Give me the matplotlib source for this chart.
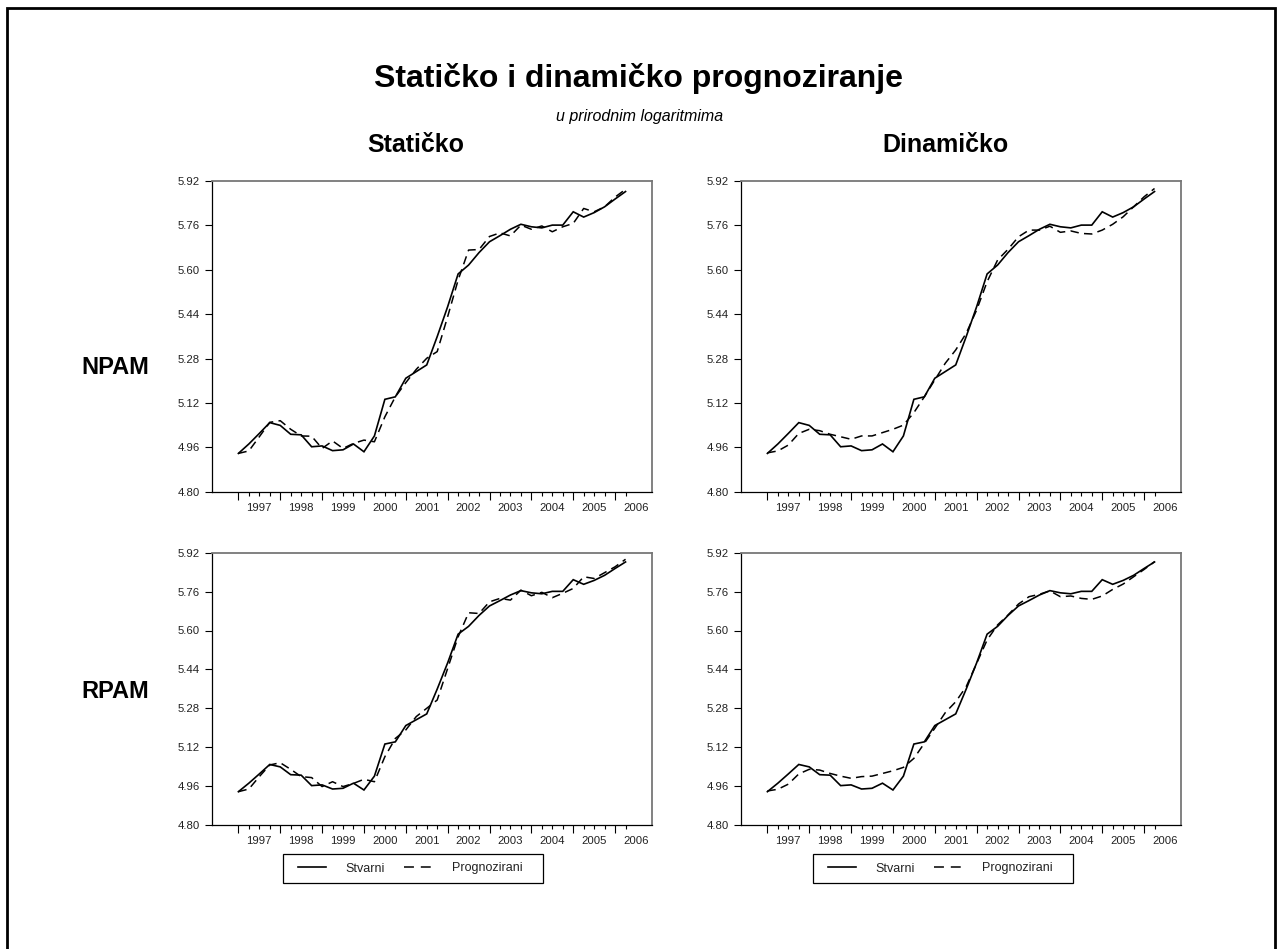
import numpy as np
import matplotlib
matplotlib.use("Agg")
import matplotlib.pyplot as plt
from matplotlib.patches import Rectangle
from matplotlib.lines import Line2D

plt.rcParams["font.family"] = ["Liberation Sans", "DejaVu Sans"]

# quarterly data, 1997Q1 .. 2006Q2 (log levels)
years = [str(y) for y in range(1997, 2007)]

npam_stvarni = [4.938, 4.972, 5.010, 5.049, 5.039, 5.007, 5.005, 4.962, 4.965, 4.948,
                4.951, 4.972, 4.944, 5.001, 5.133, 5.142, 5.209, 5.233, 5.257, 5.359,
                5.467, 5.585, 5.617, 5.662, 5.701, 5.723, 5.746, 5.764, 5.755, 5.751,
                5.761, 5.761, 5.809, 5.790, 5.806, 5.827, 5.855, 5.882]
npam_staticko = [4.938, 4.947, 4.998, 5.050, 5.056, 5.025, 5.001, 5.000, 4.956, 4.983,
                 4.956, 4.974, 4.986, 4.980, 5.070, 5.142, 5.193, 5.241, 5.281, 5.305,
                 5.431, 5.563, 5.671, 5.673, 5.720, 5.733, 5.722, 5.761, 5.746, 5.758,
                 5.737, 5.755, 5.767, 5.821, 5.809, 5.827, 5.862, 5.890]
npam_dinamicko = [4.940, 4.947, 4.968, 5.010, 5.025, 5.020, 5.007, 4.998, 4.989, 5.001,
                  5.001, 5.013, 5.025, 5.040, 5.085, 5.142, 5.203, 5.263, 5.311, 5.371,
                  5.455, 5.557, 5.635, 5.674, 5.719, 5.743, 5.743, 5.757, 5.735, 5.740,
                  5.731, 5.729, 5.743, 5.764, 5.791, 5.827, 5.863, 5.893]

rpam_stvarni = [4.937, 4.972, 5.010, 5.049, 5.039, 5.007, 5.005, 4.962, 4.965, 4.948,
                4.951, 4.972, 4.944, 5.001, 5.133, 5.142, 5.209, 5.233, 5.257, 5.359,
                5.467, 5.585, 5.617, 5.662, 5.701, 5.723, 5.746, 5.764, 5.755, 5.751,
                5.761, 5.761, 5.809, 5.790, 5.806, 5.827, 5.855, 5.882]
rpam_staticko = [4.937, 4.948, 4.999, 5.047, 5.056, 5.029, 4.999, 4.995, 4.958, 4.978,
                 4.958, 4.971, 4.988, 4.978, 5.081, 5.156, 5.191, 5.246, 5.280, 5.314,
                 5.444, 5.574, 5.673, 5.670, 5.718, 5.732, 5.725, 5.766, 5.743, 5.757,
                 5.735, 5.753, 5.773, 5.821, 5.814, 5.838, 5.862, 5.893]
rpam_dinamicko = [4.940, 4.947, 4.968, 5.010, 5.029, 5.026, 5.012, 5.001, 4.992, 4.999,
                  5.001, 5.012, 5.023, 5.037, 5.074, 5.136, 5.198, 5.262, 5.307, 5.369,
                  5.465, 5.561, 5.623, 5.664, 5.709, 5.739, 5.749, 5.763, 5.739, 5.742,
                  5.732, 5.728, 5.742, 5.769, 5.791, 5.821, 5.851, 5.883]

W, H = 1278, 949
fig = plt.figure(figsize=(W / 100, H / 100), dpi=100)


def px_axes(left, top, right, bottom):
    return fig.add_axes([left / W, 1 - bottom / H, (right - left) / W, (bottom - top) / H])


def draw_panel(ax, actual, forecast):
    x = np.arange(len(actual))
    ax.plot(x, actual, color="black", lw=1.2, solid_joinstyle="miter")
    ax.plot(x, forecast, color="black", lw=1.1, ls=(0, (5.5, 3.5)))
    ax.set_xlim(-2.55, 39.5)
    ax.set_ylim(4.80, 5.92)
    ax.set_yticks(np.arange(4.80, 5.93, 0.16))
    ax.set_yticklabels(["%.2f" % v for v in np.arange(4.80, 5.93, 0.16)])
    ax.tick_params(axis="y", direction="out", length=4.8, width=0.8, pad=4.0,
                   labelsize=8.2, colors="black", labelcolor="#222222")
    ax.set_xticks(np.arange(0, len(actual), 4))
    ax.set_xticklabels([])
    ax.set_xticks(x, minor=True)
    ax.tick_params(axis="x", which="major", direction="out", length=5.5, width=0.8)
    ax.tick_params(axis="x", which="minor", direction="out", length=3.0, width=0.8)
    sec = ax.secondary_xaxis("bottom")
    sec.set_xticks(np.arange(2, 2 + 4 * len(years), 4))
    sec.set_xticklabels(years)
    sec.tick_params(length=0, pad=8.0, labelsize=8.2, labelcolor="#222222")
    sec.spines["bottom"].set_visible(False)
    for s in ["left", "bottom"]:
        ax.spines[s].set_color("black")
        ax.spines[s].set_linewidth(0.9)
    for s in ["top", "right"]:
        ax.spines[s].set_color("#777777")
        ax.spines[s].set_linewidth(1.3)


ax_tl = px_axes(211.7, 181, 651.7, 491.7)
ax_tr = px_axes(740.7, 181, 1180.7, 491.7)
ax_bl = px_axes(211.7, 552.7, 651.7, 825)
ax_br = px_axes(740.7, 552.7, 1180.7, 825)

draw_panel(ax_tl, npam_stvarni, npam_staticko)
draw_panel(ax_tr, npam_stvarni, npam_dinamicko)
draw_panel(ax_bl, rpam_stvarni, rpam_staticko)
draw_panel(ax_br, rpam_stvarni, rpam_dinamicko)

# legends under the bottom panels (frame drawn separately, EViews style margins)
handles = [Line2D([], [], color="black", lw=1.2),
           Line2D([], [], color="black", lw=1.1, ls=(0, (6.5, 4.5)))]
for ax, bx in [(ax_bl, 283), (ax_br, 813)]:
    leg = ax.legend(handles, ["Stvarni", "Prognozirani"], ncol=2, loc="center",
                    bbox_to_anchor=((bx + 127) / W, 1 - 868.5 / H),
                    bbox_transform=fig.transFigure, fontsize=9, frameon=False,
                    handlelength=2.3, handletextpad=1.5, columnspacing=1.6,
                    borderpad=0, borderaxespad=0)
    for t in leg.get_texts():
        t.set_color("#222222")
    fig.patches.append(Rectangle((bx / W, 1 - 883 / H), 260 / W, 29 / H,
                                 transform=fig.transFigure, fill=False,
                                 edgecolor="black", lw=0.9))

# titles
fig.text(638 / W, 1 - 78 / H, "Statičko i dinamičko prognoziranje", ha="center", va="center",
         fontsize=23, fontweight="bold")
fig.text(640 / W, 1 - 117 / H, "u prirodnim logaritmima", ha="center", va="center",
         fontsize=11.5, style="italic")
fig.text(416 / W, 1 - 145 / H, "Statičko", ha="center", va="center", fontsize=18, fontweight="bold")
fig.text(945 / W, 1 - 145 / H, "Dinamičko", ha="center", va="center", fontsize=18, fontweight="bold")
fig.text(115 / W, 1 - 367 / H, "NPAM", ha="center", va="center", fontsize=17, fontweight="bold")
fig.text(115 / W, 1 - 692 / H, "RPAM", ha="center", va="center", fontsize=17, fontweight="bold")

# outer frame
fig.patches.append(Rectangle((6.5 / W, -0.05), (1275 - 6.5) / W, 1.05 - 7.5 / H,
                             transform=fig.transFigure, fill=False, edgecolor="black", lw=2))

fig.savefig("out.png", dpi=100)
